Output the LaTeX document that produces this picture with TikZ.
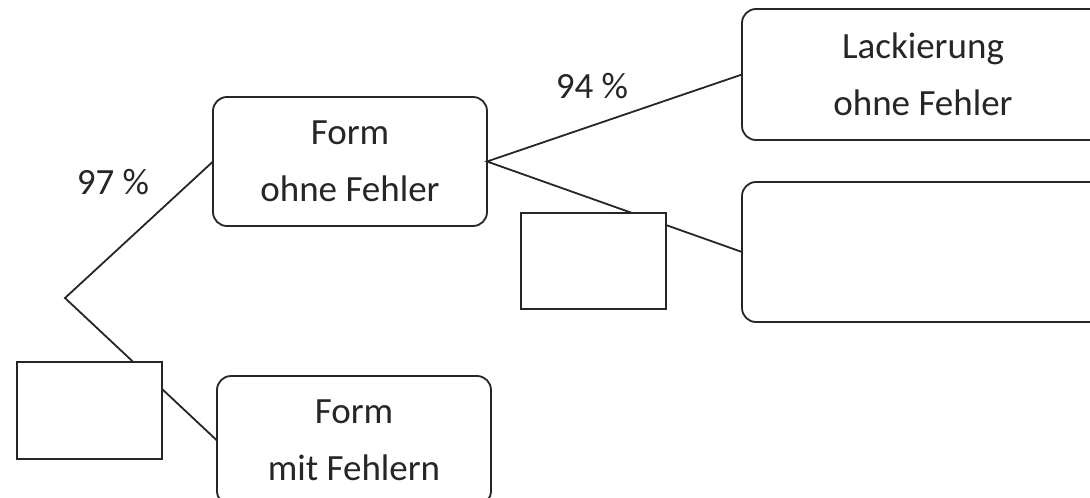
\documentclass[tikz,border=0pt]{standalone}
\usepackage{fontspec}
\setmainfont{Carlito}
\begin{document}
\begin{tikzpicture}[x=1pt,y=-1pt,
  every node/.style={inner sep=0pt, outer sep=0pt},
  rbox/.style={draw=black!85, line width=1.8pt, rounded corners=14pt, align=center,
     font=\fontsize{37}{57}\selectfont, text=black!85},
  sbox/.style={draw=black!85, line width=1.8pt, fill=white},
  conn/.style={draw=black!85, line width=1.8pt},
  lbl/.style={font=\fontsize{37}{40}\selectfont, text=black!85, anchor=base}]
\useasboundingbox (0,0) rectangle (1090,498);
\clip (0,0) rectangle (1090,498);
\fill[white] (0,0) rectangle (1090,498);
\node[rbox, minimum width=274pt, minimum height=129pt] (fo) at (350,161.5) {Form\\ohne Fehler};
\node[rbox, minimum width=274pt, minimum height=129pt] (fm) at (354,440.5) {Form\\mit Fehlern};
\node[rbox, minimum width=362pt, minimum height=131pt] (lk) at (923,74.5) {Lackierung\\ohne Fehler};
\node[rbox, minimum width=362pt, minimum height=140pt] (lo) at (923,252) {};
\coordinate (root) at (65,298);
\draw[conn] (fo.west) -- (root) -- (fm.west);
\draw[conn] (lk.west) -- (fo.east) -- (lo.west);
\node[sbox, minimum width=145pt, minimum height=97pt] (b1) at (89.5,410.5) {};
\node[sbox, minimum width=145pt, minimum height=96pt] (b2) at (593.5,261) {};
\node[lbl] (p97) at (113,194) {97 \%};
\node[lbl] (p94) at (592,98) {94 \%};
\end{tikzpicture}
\end{document}
